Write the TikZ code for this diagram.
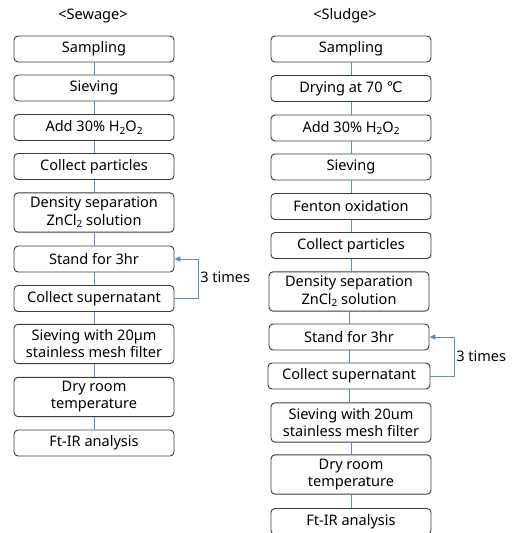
\documentclass[tikz,border=0pt]{standalone}
\usepackage{fontspec}
\setmainfont{Noto Sans}
\newfontfamily\dejavu{DejaVu Sans}
\usetikzlibrary{arrows.meta}
\definecolor{boxline}{RGB}{60,60,60}
\definecolor{connblue}{RGB}{92,140,205}
\newcommand{\subtwo}{\raisebox{-0.35ex}{\fontsize{7.5}{8}\selectfont 2}}
\begin{document}
\begin{tikzpicture}[x=0.75pt,y=-0.75pt,
  font=\fontsize{10.9}{12.8}\selectfont,
  box/.style={draw=boxline, line width=0.7pt, rounded corners=3pt, align=center,
    minimum width=120pt, minimum height=19.5pt, inner sep=1pt},
  tallbox/.style={box, minimum height=29.5pt},
  conn/.style={draw=connblue, line width=0.7pt},
  loop/.style={draw=connblue, line width=0.7pt, -{Triangle[length=4.5pt,width=4pt]}},
  title/.style={inner sep=0pt}]
\useasboundingbox (0,0) rectangle (513,533);
\fill[white] (0,0) rectangle (513,533);
% titles
\node[title] (t1) at (93,16) {<Sewage>};
\node[title] (t2) at (345,16) {<Sludge>};
% left column
\node[box] (l1) at (94,49) {Sampling};
\node[box] (l2) at (94,88) {Sieving};
\node[box] (l3) at (94,127.5) {Add 30\% H\subtwo O\subtwo};
\node[box] (l4) at (94,166.5) {Collect particles};
\node[tallbox] (l5) at (94,212.5) {Density separation\\ZnCl\subtwo\ solution};
\node[box] (l6) at (94,259) {Stand for 3hr};
\node[box] (l7) at (94,298.5) {Collect supernatant};
\node[tallbox] (l8) at (94,344) {Sieving with 20µm\\stainless mesh filter};
\node[tallbox] (l9) at (94,397) {Dry room\\temperature};
\node[box] (l10) at (94,443) {Ft-IR analysis};
\foreach \a/\b in {l1/l2,l2/l3,l3/l4,l4/l5,l5/l6,l6/l7,l7/l8,l8/l9,l9/l10}
  \draw[conn] (\a.south) -- (\a.south |- \b.north);
\coordinate (lc1) at (198,298.5);
\coordinate (lc2) at (198,259);
\draw[loop] (l7.east) -- (lc1) -- (lc2) -- (l6.east);
\node[anchor=west, inner sep=0pt] (lt) at (200,277) {3 times};
% right column
\node[box] (r1) at (351,49) {Sampling};
\node[box] (r2) at (351,88.5) {Drying at 70 {\dejavu ℃}};
\node[box] (r3) at (351,128) {Add 30\% H\subtwo O\subtwo};
\node[box] (r4) at (351,167) {Sieving};
\node[box] (r5) at (351,206.5) {Fenton oxidation};
\node[box] (r6) at (351,245.5) {Collect particles};
\node[tallbox] (r7) at (349,291.5) {Density separation\\ZnCl\subtwo\ solution};
\node[box] (r8) at (349,337) {Stand for 3hr};
\node[box, minimum width=121.5pt] (r9) at (349,376) {Collect supernatant};
\node[tallbox] (r10) at (351,422.5) {Sieving with 20um\\stainless mesh filter};
\node[tallbox] (r11) at (351,474.5) {Dry room\\temperature};
\node[box] (r12) at (351,521.5) {Ft-IR analysis};
\foreach \a/\b in {r1/r2,r2/r3,r3/r4,r4/r5,r5/r6,r6/r7,r7/r8,r8/r9,r9/r10,r10/r11,r11/r12}
  \draw[conn] (\a.south) -- (\a.south |- \b.north);
\coordinate (rc1) at (454,376);
\coordinate (rc2) at (454,337);
\draw[loop] (r9.east) -- (rc1) -- (rc2) -- (r8.east);
\node[anchor=west, inner sep=0pt] (rt) at (456,356) {3 times};
\end{tikzpicture}
\end{document}
